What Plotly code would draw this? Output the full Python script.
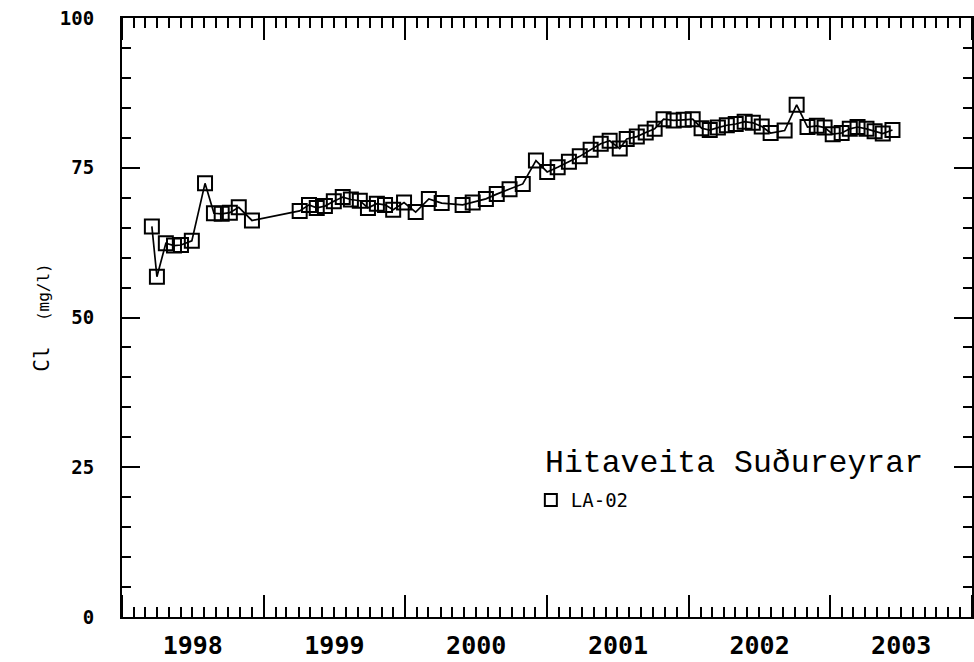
import plotly.graph_objects as go

dates = [
    "1998-03-19", "1998-04-01", "1998-04-24", "1998-05-15", "1998-06-02", "1998-06-30",
    "1998-08-03", "1998-08-26", "1998-09-15", "1998-10-06", "1998-10-29", "1998-12-02",
    "1999-04-04", "1999-04-28", "1999-05-18", "1999-06-08", "1999-07-01", "1999-07-24",
    "1999-08-14", "1999-09-06", "1999-09-27", "1999-10-20", "1999-11-10", "1999-12-01",
    "1999-12-29", "2000-01-28", "2000-03-02", "2000-04-04", "2000-05-28", "2000-06-23",
    "2000-07-27", "2000-08-24", "2000-09-26", "2000-10-30", "2000-12-03", "2001-01-01",
    "2001-01-28", "2001-02-26", "2001-03-26", "2001-04-23", "2001-05-19", "2001-06-11",
    "2001-07-07", "2001-07-25", "2001-08-20", "2001-09-12", "2001-10-05", "2001-10-28",
    "2001-11-23", "2001-12-19", "2002-01-11", "2002-02-03", "2002-02-24", "2002-03-17",
    "2002-04-09", "2002-05-02", "2002-05-25", "2002-06-15", "2002-07-08", "2002-07-31",
    "2002-09-05", "2002-10-06", "2002-11-03", "2002-11-27", "2002-12-17", "2003-01-07",
    "2003-01-30", "2003-02-20", "2003-03-12", "2003-04-04", "2003-04-25", "2003-05-16",
    "2003-06-10",
]
cl_mg_l = [
    65.2, 56.8, 62.4, 62.0, 62.1, 62.8,
    72.4, 67.4, 67.3, 67.5, 68.4, 66.2,
    67.8, 68.8, 68.3, 68.6, 69.4, 70.1,
    69.7, 69.5, 68.3, 69.0, 68.8, 68.0,
    69.2, 67.6, 69.8, 69.1, 68.8, 69.2,
    69.8, 70.6, 71.4, 72.3, 76.2, 74.3,
    75.1, 76.0, 76.9, 78.0, 79.0, 79.5,
    78.2, 79.8, 80.2, 80.9, 81.5, 83.1,
    82.9, 83.0, 83.1, 81.6, 81.3, 81.7,
    82.1, 82.3, 82.7, 82.5, 81.9, 80.8,
    81.2, 85.5, 81.8, 82.0, 81.7, 80.6,
    80.8, 81.5, 81.8, 81.5, 81.1, 80.7,
    81.3,
]
station = "LA-02"
site_title = "Hitaveita Suðureyrar"
x_range = ["1998-01-01", "2004-01-01"]
y_range = [0, 100]

mono = "DejaVu Sans Mono"

fig = go.Figure()
fig.add_trace(go.Scatter(
    x=dates, y=cl_mg_l, mode="lines+markers",
    line=dict(color="black", width=1.7),
    marker=dict(symbol="square-open", size=14, color="black", line=dict(width=2, color="black")),
    showlegend=False,
))
fig.add_trace(go.Scatter(
    x=[None], y=[None], mode="markers", name=station,
    marker=dict(symbol="square-open", size=12, color="black", line=dict(width=2, color="black")),
    showlegend=True,
))

fig.update_xaxes(
    type="date", range=x_range, dtick="M12", tick0="1998-01-01",
    ticklabelmode="period", tickformat="%Y",
    ticks="inside", ticklen=22, tickwidth=2, tickcolor="black",
    minor=dict(dtick="M1", ticks="inside", ticklen=10, tickwidth=1.5, tickcolor="black"),
    showline=True, linecolor="black", linewidth=2, mirror="ticks",
    showgrid=False, zeroline=False, automargin=False,
    tickfont=dict(family=mono, size=25, color="black", weight="bold"),
    ticklabelstandoff=5,
)
fig.update_yaxes(
    range=y_range, dtick=25, tick0=0,
    ticks="inside", ticklen=18, tickwidth=2, tickcolor="black",
    minor=dict(dtick=5, ticks="inside", ticklen=9, tickwidth=1.5, tickcolor="black"),
    showline=True, linecolor="black", linewidth=2, mirror="ticks",
    showgrid=False, zeroline=False, automargin=False,
    tickfont=dict(family=mono, size=19, color="black", weight="bold"),
    ticklabelstandoff=22,
    title=dict(text="Cl  <span style='font-size:16px'>(mg/l)</span>",
               font=dict(family=mono, size=21, color="black"), standoff=5),
)

fig.add_annotation(
    xref="paper", yref="paper", x=0.495, y=0.257, xanchor="left", yanchor="middle",
    text=site_title, showarrow=False,
    font=dict(family="Liberation Mono", size=31.5, color="black"),
)

fig.update_layout(
    width=974, height=662,
    margin=dict(l=122, r=2, t=18, b=45),
    paper_bgcolor="white", plot_bgcolor="white",
    legend=dict(x=0.481, y=0.227, xanchor="left", yanchor="top",
                font=dict(family=mono, size=19, color="black"),
                bgcolor="rgba(0,0,0,0)", itemwidth=30),
)

fig.write_html("out.html", config={"displayModeBar": False},
               post_script="document.body.style.margin='0';document.body.style.overflow='hidden';")
